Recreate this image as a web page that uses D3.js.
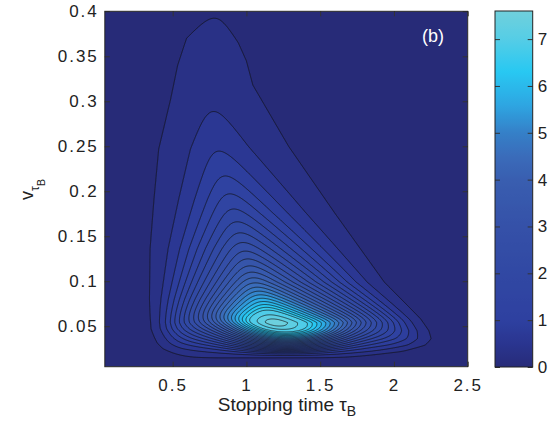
<!DOCTYPE html>
<html>
<head>
<meta charset="utf-8">
<script src="https://cdn.jsdelivr.net/npm/d3@7"></script>
<style>
  body { margin: 0; background: #fff; }
  text { font-family: "Liberation Sans", Arial, sans-serif; fill: #222; }
</style>
</head>
<body>
<div id="chart"></div>
<script>
// rim of the lowest contour (0.3)
// left side, bottom to top
const leftV   = [0.019, 0.025, 0.031, 0.047, 0.080, 0.136, 0.191, 0.247, 0.302, 0.340, 0.370, 0.383];
const leftTau = [0.448, 0.400, 0.380, 0.352, 0.346, 0.352, 0.380, 0.414, 0.496, 0.545, 0.605, 0.680];
// right side, bottom to top
const rightV   = [0.017, 0.022, 0.029, 0.036, 0.045, 0.058, 0.099, 0.176, 0.250, 0.318, 0.345, 0.365, 0.380];
const rightTau = [1.910, 2.120, 2.240, 2.264, 2.240, 2.180, 1.930, 1.590, 1.275, 1.030, 0.985, 0.930, 0.870];
// floor of the rim
const bottomV = [0.015];
// location of the maximum, and of the crowded patch just below it
const peak = [1.17, 0.054];
const pinchTau = [1.28];
// level against relative depth inside the rim (0 = rim, 1 = maximum)
const profileDepth = [-0.1, -0.003, 0.075, 0.125, 0.165, 0.835, 0.905, 0.965, 1.0];
const profileLevel = [0, 0.3, 0.6, 0.9, 1.2, 6.9, 7.2, 7.5, 7.65];
const levels = [0.3, 0.6, 0.9, 1.2, 1.5, 1.8, 2.1, 2.4, 2.7, 3.0, 3.3, 3.6, 3.9, 4.2, 4.5, 4.8, 5.1, 5.4, 5.7, 6.0, 6.3, 6.6, 6.9, 7.2, 7.5];

const xTicks = [0.5, 1, 1.5, 2, 2.5];
const xTickLabels = ['0.5', '1', '1.5', '2', '2.5'];
const yTicks = [0.05, 0.1, 0.15, 0.2, 0.25, 0.3, 0.35, 0.4];
const yTickLabels = ['0.05', '0.1', '0.15', '0.2', '0.25', '0.3', '0.35', '0.4'];
const cbTicks = [0, 1, 2, 3, 4, 5, 6, 7];

const width = 558, height = 423;
const svg = d3.select('#chart').append('svg')
  .attr('width', width)
  .attr('height', height);

const x = d3.scaleLinear().domain([0.04, 2.5]).range([104.8, 467.7]);
const y = d3.scaleLinear().domain([0.005, 0.4]).range([366.7, 11.3]);

const color = d3.scaleLinear()
  .domain([0, 0.5, 1, 2, 3, 4, 4.5, 5, 5.6, 6.3, 7, 7.6])
  .range(['#272b78', '#2a3590', '#2e40a0', '#3148a3', '#3551a8', '#395eb0', '#3a6cba', '#3580c8', '#2ea6e2', '#28c8f2', '#55cde6', '#70d0dc'])
  .clamp(true);

// rim as functions of v (pixels), extrapolated past the ends
const leftX = d3.scaleLinear().domain(leftV).range(leftTau.map(x));
const rightX = d3.scaleLinear().domain(rightV).range(rightTau.map(x));
const yFloor = y(bottomV[0]);

// the slope weakens with height above the maximum
const heightPow = 1.1, heightOff = 0.03;
function weaken(v) {
  return v > peak[1] ? Math.pow((peak[1] + heightOff) / (v + heightOff), heightPow) : 1;
}
// the floor is steepest just below the maximum
const xPinch = x(pinchTau[0]);
function pinch(X) {
  const d = (X - xPinch) / 42;
  return 0.3 + 0.7 * Math.exp(-d * d / 2);
}

const xp = x(peak[0]), yp = y(peak[1]);
const depthPk = rightX(peak[1]) - xp;
const kL = depthPk / (xp - leftX(peak[1]));
const kB = depthPk / ((yFloor - yp) * pinch(xp));
const soft = 14;

function depth(t, v) {
  const X = x(t), Y = y(v), h = weaken(v);
  const a = kL * (X - leftX(v));
  const c = rightX(v) - X;
  const b = kB * pinch(X) * (yFloor - Y) / h;
  const mn = Math.min(a, b, c);
  const sm = mn - soft * Math.log(Math.exp(-(a - mn) / soft) + Math.exp(-(b - mn) / soft) + Math.exp(-(c - mn) / soft));
  return h * sm;
}

const nx = 364, ny = 356;
const t0 = x.domain()[0], dt = (x.domain()[1] - t0) / (nx - 1);
const v0 = y.domain()[0], dv = (y.domain()[1] - v0) / (ny - 1);
const depths = new Float64Array(nx * ny);
for (let j = 0; j < ny; j++) {
  for (let i = 0; i < nx; i++) {
    depths[j * nx + i] = depth(t0 + i * dt, v0 + j * dv);
  }
}
const depthMax = d3.max(depths);
const profile = d3.scaleLinear().domain(profileDepth).range(profileLevel).clamp(true);
const values = depths.map(m => profile(m / depthMax));

const contours = d3.contours().size([nx, ny]).thresholds(levels)(values);

const path = d3.geoPath(d3.geoTransform({
  point: function(px, py) {
    this.stream.point(x(t0 + (px - 0.5) * dt), y(v0 + (py - 0.5) * dv));
  }
}));

svg.append('clipPath').attr('id', 'plotclip')
  .append('rect')
  .attr('x', x.range()[0]).attr('y', y.range()[1])
  .attr('width', x.range()[1] - x.range()[0])
  .attr('height', y.range()[0] - y.range()[1]);

const plot = svg.append('g').attr('clip-path', 'url(#plotclip)');

plot.append('rect')
  .attr('x', x.range()[0]).attr('y', y.range()[1])
  .attr('width', x.range()[1] - x.range()[0])
  .attr('height', y.range()[0] - y.range()[1])
  .attr('fill', color(0));

plot.selectAll('path.band')
  .data(contours)
  .enter()
  .append('path')
  .attr('class', 'band')
  .attr('d', path)
  .attr('fill', d => color(d.value))
  .attr('fill-rule', 'evenodd')
  .attr('stroke', '#121212')
  .attr('stroke-opacity', 0.9)
  .attr('stroke-width', 0.75);

// axes, ticks pointing inwards
const tickLen = 5;
svg.append('g')
  .attr('transform', 'translate(0,' + y.range()[0] + ')')
  .call(d3.axisBottom(x).tickValues(xTicks).tickSize(-tickLen).tickPadding(12)
    .tickFormat((d, i) => xTickLabels[i]))
  .call(g => g.select('.domain').remove())
  .call(g => g.selectAll('text').attr('font-size', 17).attr('fill', '#222').style('letter-spacing', '2px'));

svg.append('g')
  .attr('transform', 'translate(0,' + y.range()[1] + ')')
  .call(d3.axisTop(x).tickValues(xTicks).tickSize(-tickLen).tickFormat(''))
  .call(g => g.select('.domain').remove());

svg.append('g')
  .attr('transform', 'translate(' + x.range()[0] + ',0)')
  .call(d3.axisLeft(y).tickValues(yTicks).tickSize(-tickLen).tickPadding(6)
    .tickFormat((d, i) => yTickLabels[i]))
  .call(g => g.select('.domain').remove())
  .call(g => g.selectAll('text').attr('font-size', 17).attr('fill', '#222').style('letter-spacing', '2px'));

svg.append('g')
  .attr('transform', 'translate(' + x.range()[1] + ',0)')
  .call(d3.axisRight(y).tickValues(yTicks).tickSize(-tickLen).tickFormat(''))
  .call(g => g.select('.domain').remove());

svg.selectAll('.tick line').attr('stroke', '#333');

svg.append('rect')
  .attr('x', x.range()[0]).attr('y', y.range()[1])
  .attr('width', x.range()[1] - x.range()[0])
  .attr('height', y.range()[0] - y.range()[1])
  .attr('fill', 'none')
  .attr('stroke', '#222')
  .attr('stroke-width', 1);

// panel letter
svg.append('text')
  .attr('x', 422)
  .attr('y', 42)
  .attr('font-size', 18)
  .style('fill', '#fff')
  .text('(b)');

// axis titles
const xLab = svg.append('text')
  .attr('x', 287)
  .attr('y', 411)
  .attr('font-size', 19)
  .attr('text-anchor', 'middle');
xLab.append('tspan').text('Stopping time  \u03c4');
xLab.append('tspan').attr('font-size', 14).attr('dy', 5).text('B');

const yLab = svg.append('text')
  .attr('transform', 'translate(33,200) rotate(-90)')
  .attr('font-size', 18);
yLab.append('tspan').text('v');
yLab.append('tspan').attr('font-size', 12).attr('dy', 5.5).text('\u03c4');
yLab.append('tspan').attr('font-size', 11).attr('dy', 6).text('B');

// colour bar
const cb = { x0: 495, x1: 532.7 };
const cbY = d3.scaleLinear().domain([0, 7.6]).range([367, 11]);

const grad = svg.append('defs').append('linearGradient')
  .attr('id', 'cbgrad')
  .attr('x1', 0).attr('y1', 1).attr('x2', 0).attr('y2', 0);
grad.selectAll('stop')
  .data(d3.range(0, 7.61, 0.1))
  .enter()
  .append('stop')
  .attr('offset', d => d / 7.6)
  .attr('stop-color', d => color(d));

svg.append('rect')
  .attr('x', cb.x0).attr('y', cbY.range()[1])
  .attr('width', cb.x1 - cb.x0)
  .attr('height', cbY.range()[0] - cbY.range()[1])
  .attr('fill', 'url(#cbgrad)');

svg.append('g')
  .attr('transform', 'translate(' + cb.x1 + ',0)')
  .call(d3.axisRight(cbY).tickValues(cbTicks).tickSize(-tickLen).tickPadding(5).tickFormat(d3.format('d')))
  .call(g => g.select('.domain').remove())
  .call(g => g.selectAll('text').attr('font-size', 17).attr('fill', '#222'))
  .call(g => g.selectAll('.tick line').attr('stroke', '#333'));

svg.append('g')
  .attr('transform', 'translate(' + cb.x0 + ',0)')
  .call(d3.axisLeft(cbY).tickValues(cbTicks).tickSize(-tickLen).tickFormat(''))
  .call(g => g.select('.domain').remove())
  .call(g => g.selectAll('.tick line').attr('stroke', '#333'));

svg.append('rect')
  .attr('x', cb.x0).attr('y', cbY.range()[1])
  .attr('width', cb.x1 - cb.x0)
  .attr('height', cbY.range()[0] - cbY.range()[1])
  .attr('fill', 'none')
  .attr('stroke', '#222')
  .attr('stroke-width', 1);
</script>
</body>
</html>
